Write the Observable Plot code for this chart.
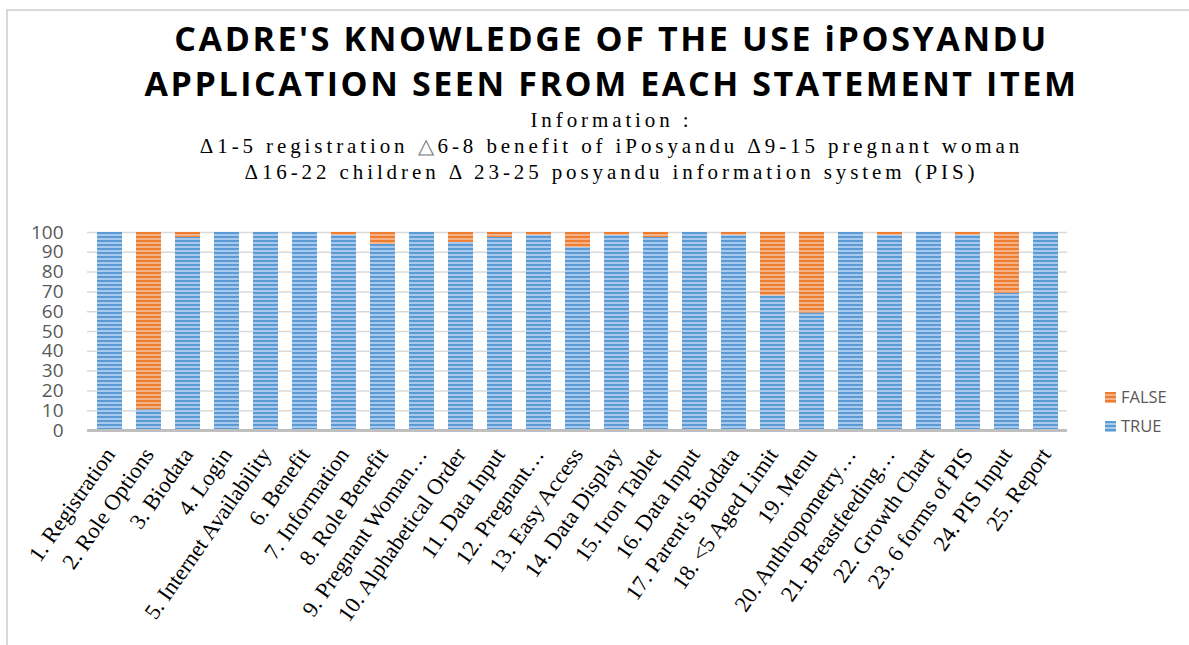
<!DOCTYPE html>
<html><head><meta charset="utf-8">
<script src="https://cdn.jsdelivr.net/npm/d3@7"></script>
<script src="https://cdn.jsdelivr.net/npm/@observablehq/plot@0.6"></script>
<style>
body{margin:0;background:#fff;}
#wrap{position:relative;width:1189px;height:645px;overflow:hidden;background:#fff;}
.frameTop{position:absolute;left:6px;top:9px;width:1183px;height:2px;background:#d9d9d9}
.frameLeft{position:absolute;left:6px;top:9px;width:2px;height:636px;background:#d9d9d9}
.title{position:absolute;left:34px;width:1155px;text-align:center;font-family:"Open Sans",sans-serif;font-weight:700;font-size:34px;letter-spacing:2.6px;color:#000;line-height:45px;top:16px;margin:0}
.sub{position:absolute;left:34px;width:1155px;text-align:center;font-family:"Liberation Serif",serif;font-size:21px;letter-spacing:3.9px;line-height:26px;top:107px;color:#000;margin:0}
.tri{color:#777}
#chart{position:absolute;left:0;top:200px}
.legend{position:absolute;left:1105px;font-family:"Open Sans",sans-serif;font-size:16.5px;color:#595959;line-height:18px;display:flex;align-items:center}
.sw{width:11px;height:11px;margin-right:5px}
</style></head>
<body>
<svg width="0" height="0" style="position:absolute">
  <defs>
    <pattern id="pTrue" patternUnits="userSpaceOnUse" width="4" height="4">
      <rect width="4" height="4" fill="#5b9bd5"/>
      <rect y="2" width="4" height="2" fill="#a8c9ec"/>
    </pattern>
    <pattern id="pFalse" patternUnits="userSpaceOnUse" width="4" height="4">
      <rect width="4" height="4" fill="#ed7d31"/>
      <rect y="2" width="4" height="2" fill="#f5b286"/>
    </pattern>
  </defs>
</svg>
<div id="wrap">
  <div class="frameTop"></div><div class="frameLeft"></div>
  <div class="title">CADRE'S KNOWLEDGE OF THE USE iPOSYANDU<br>APPLICATION SEEN FROM EACH STATEMENT ITEM</div>
  <div class="sub">Information :<br>Δ1-5 registration <span class="tri">△</span>6-8 benefit of iPosyandu Δ9-15 pregnant woman<br>Δ16-22 children Δ 23-25 posyandu information system (PIS)</div>
  <div id="chart"></div>
  <div class="legend" style="top:388px"><div class="sw" style="background:repeating-linear-gradient(#ed7d31 0 2px,#f5b286 2px 4px)"></div>FALSE</div>
  <div class="legend" style="top:417px"><div class="sw" style="background:repeating-linear-gradient(#5b9bd5 0 2px,#a8c9ec 2px 4px)"></div>TRUE</div>
</div>
<script>
const labels = [
  "1. Registration","2. Role Options","3. Biodata","4. Login","5. Internet Availability",
  "6. Benefit","7. Information","8. Role Benefit","9. Pregnant Woman…","10. Alphabetical Order",
  "11. Data Input","12. Pregnant…","13. Easy Access","14. Data Display","15. Iron Tablet",
  "16. Data Input","17. Parent's Biodata","18. <5 Aged Limit","19. Menu","20. Anthropometry…",
  "21. Breastfeeding…","22. Growth Chart","23. 6 forms of PIS","24. PIS Input","25. Report"
];
const trueVals  = [100,10.5,97.5,100,100,100,98.6,94,100,95,97.5,98.6,92.5,98.6,97.5,100,98.6,68,59.3,100,98.6,100,98.6,69.3,100];
const falseVals = [0,89.5,2.5,0,0,0,1.4,6,0,5,2.5,1.4,7.5,1.4,2.5,0,1.4,32,40.7,0,1.4,0,1.4,30.7,0];
const yTicks = [0,10,20,30,40,50,60,70,80,90,100];

const rows = labels.map((label, i) => ({label, t: trueVals[i], f: falseVals[i]}));

const chart = Plot.plot({
  width: 1189,
  height: 445,
  marginLeft: 87,
  marginRight: 122,
  marginTop: 32,
  marginBottom: 215,
  x: {domain: labels, paddingInner: 0.36, paddingOuter: 0.15, label: null},
  y: {domain: [0, 100], label: null},
  marks: [
    Plot.ruleY(yTicks.filter(d => d > 0), {stroke: "#d9d9d9", strokeWidth: 1.5}),
    Plot.barY(rows, {x: "label", y1: 0, y2: "t", fill: "url(#pTrue)"}),
    Plot.barY(rows, {x: "label", y1: "t", y2: d => d.t + d.f, fill: "url(#pFalse)"}),
    Plot.ruleY([0], {stroke: "#bfbfbf", strokeWidth: 3}),
    Plot.axisY({ticks: yTicks, tickSize: 0, tickPadding: 24, fontSize: 19, fill: "#595959", label: null, fontFamily: "Open Sans"}),
    Plot.axisX({tickSize: 0, tickPadding: 20, tickRotate: -55, fontSize: 22.5, fontFamily: "Liberation Serif", fill: "#000", label: null})
  ]
});
document.getElementById("chart").appendChild(chart);
</script>
</body></html>
